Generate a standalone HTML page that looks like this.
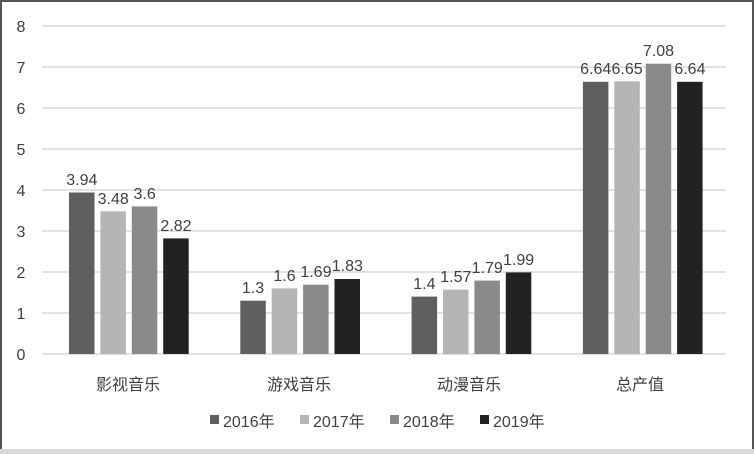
<!DOCTYPE html>
<html><head><meta charset="utf-8"><style>
html,body{margin:0;padding:0;background:#fff}
svg{display:block}
text{font-family:"Liberation Sans","Noto Sans CJK SC",sans-serif;fill:#404040}
</style></head><body>
<svg width="754" height="454" viewBox="0 0 754 454">
<rect x="0" y="0" width="754" height="454" fill="#fff"/>
<rect x="1" y="1" width="752" height="452" fill="none" stroke="#555" stroke-width="2"/>
<rect x="0" y="449" width="754" height="5" fill="#d9d9d9"/>
<g stroke="#d9d9d9" stroke-width="1.5">
<line x1="42" x2="726" y1="26" y2="26"/><line x1="42" x2="726" y1="67" y2="67"/>
<line x1="42" x2="726" y1="108" y2="108"/><line x1="42" x2="726" y1="149" y2="149"/>
<line x1="42" x2="726" y1="190" y2="190"/><line x1="42" x2="726" y1="231" y2="231"/>
<line x1="42" x2="726" y1="272" y2="272"/><line x1="42" x2="726" y1="313" y2="313"/>
<line x1="42" x2="726" y1="354" y2="354"/>
</g>
<g font-size="16" text-anchor="middle">
<text x="21" y="32">8</text><text x="21" y="73">7</text><text x="21" y="114">6</text>
<text x="21" y="155">5</text><text x="21" y="196">4</text><text x="21" y="237">3</text>
<text x="21" y="278">2</text><text x="21" y="319">1</text><text x="21" y="360">0</text>
</g>
<g>
<rect x="69" y="192.5" width="25.5" height="161.5" fill="#5f5f5f"/>
<rect x="100.4" y="211.3" width="25.5" height="142.7" fill="#b5b5b5"/>
<rect x="131.8" y="206.4" width="25.5" height="147.6" fill="#8a8a8a"/>
<rect x="163.2" y="238.4" width="25.5" height="115.6" fill="#222"/>
<rect x="240.3" y="300.7" width="25.5" height="53.3" fill="#5f5f5f"/>
<rect x="271.7" y="288.4" width="25.5" height="65.6" fill="#b5b5b5"/>
<rect x="303.1" y="284.7" width="25.5" height="69.3" fill="#8a8a8a"/>
<rect x="334.5" y="279" width="25.5" height="75" fill="#222"/>
<rect x="411.6" y="296.6" width="25.5" height="57.4" fill="#5f5f5f"/>
<rect x="443" y="289.6" width="25.5" height="64.4" fill="#b5b5b5"/>
<rect x="474.4" y="280.6" width="25.5" height="73.4" fill="#8a8a8a"/>
<rect x="505.8" y="272.4" width="25.5" height="81.6" fill="#222"/>
<rect x="582.9" y="81.8" width="25.5" height="272.2" fill="#5f5f5f"/>
<rect x="614.3" y="81.3" width="25.5" height="272.7" fill="#b5b5b5"/>
<rect x="645.7" y="63.7" width="25.5" height="290.3" fill="#8a8a8a"/>
<rect x="677.1" y="81.8" width="25.5" height="272.2" fill="#222"/>
</g>
<g font-size="16" text-anchor="middle">
<text x="81.8" y="185">3.94</text><text x="113.2" y="204">3.48</text><text x="144.6" y="199">3.6</text><text x="176" y="231">2.82</text>
<text x="253" y="293">1.3</text><text x="284.5" y="281">1.6</text><text x="315.9" y="277">1.69</text><text x="347.3" y="271">1.83</text>
<text x="424.4" y="289">1.4</text><text x="455.8" y="282">1.57</text><text x="487.2" y="273">1.79</text><text x="518.6" y="265">1.99</text>
<text x="595.7" y="74">6.64</text><text x="627.1" y="74">6.65</text><text x="658.5" y="56">7.08</text><text x="689.9" y="74">6.64</text>
</g>
<g font-size="16" text-anchor="middle">
<text x="128" y="390">影视音乐</text><text x="299" y="390">游戏音乐</text>
<text x="469" y="390">动漫音乐</text><text x="640" y="390">总产值</text>
</g>
<g font-size="16">
<rect x="210" y="415" width="9" height="9" fill="#5f5f5f"/><text x="223" y="427">2016年</text>
<rect x="300" y="415" width="9" height="9" fill="#b5b5b5"/><text x="313" y="427">2017年</text>
<rect x="390" y="415" width="9" height="9" fill="#8a8a8a"/><text x="403" y="427">2018年</text>
<rect x="480" y="415" width="9" height="9" fill="#222"/><text x="493" y="427">2019年</text>
</g>
</svg>
</body></html>
